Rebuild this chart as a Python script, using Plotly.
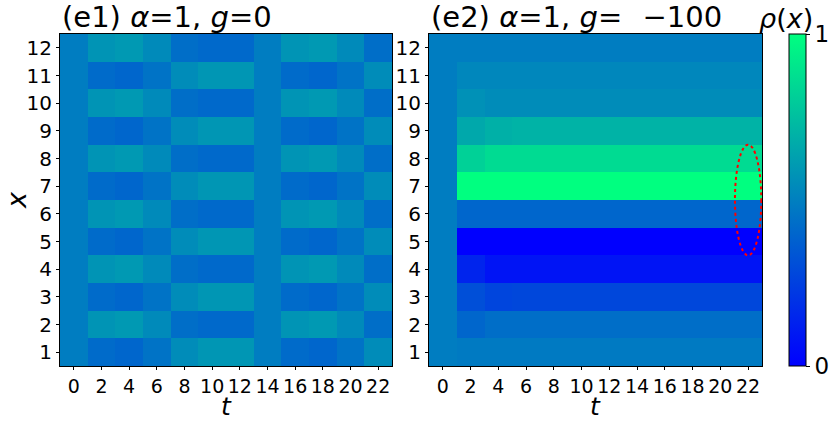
import plotly.graph_objects as go

t_vals = [0, 2, 4, 6, 8, 10, 12, 14, 16, 18, 20, 22]
x_vals = [1, 2, 3, 4, 5, 6, 7, 8, 9, 10, 11, 12]
t_ticks = [0, 2, 4, 6, 8, 10, 12, 14, 16, 18, 20, 22]

# (e1) alpha=1, g=0 : rows x=1..12, columns t=0..22
rho_e1 = [
    [0.49, 0.42, 0.40, 0.45, 0.55, 0.59, 0.59, 0.49, 0.42, 0.40, 0.45, 0.55],
    [0.49, 0.58, 0.60, 0.54, 0.43, 0.41, 0.41, 0.49, 0.58, 0.60, 0.54, 0.43],
    [0.49, 0.42, 0.40, 0.45, 0.55, 0.59, 0.59, 0.49, 0.42, 0.40, 0.45, 0.55],
    [0.49, 0.58, 0.60, 0.54, 0.43, 0.41, 0.41, 0.49, 0.58, 0.60, 0.54, 0.43],
    [0.49, 0.42, 0.40, 0.45, 0.55, 0.59, 0.59, 0.49, 0.42, 0.40, 0.45, 0.55],
    [0.49, 0.58, 0.60, 0.54, 0.43, 0.41, 0.41, 0.49, 0.58, 0.60, 0.54, 0.43],
    [0.49, 0.42, 0.40, 0.45, 0.55, 0.59, 0.59, 0.49, 0.42, 0.40, 0.45, 0.55],
    [0.49, 0.58, 0.60, 0.54, 0.43, 0.41, 0.41, 0.49, 0.58, 0.60, 0.54, 0.43],
    [0.49, 0.42, 0.40, 0.45, 0.55, 0.59, 0.59, 0.49, 0.42, 0.40, 0.45, 0.55],
    [0.49, 0.58, 0.60, 0.54, 0.43, 0.41, 0.41, 0.49, 0.58, 0.60, 0.54, 0.43],
    [0.49, 0.42, 0.40, 0.45, 0.55, 0.59, 0.59, 0.49, 0.42, 0.40, 0.45, 0.55],
    [0.49, 0.58, 0.60, 0.54, 0.43, 0.41, 0.41, 0.49, 0.58, 0.60, 0.54, 0.43],
]

# (e2) alpha=1, g=-100 : rows x=1..12, columns t=0..22
rho_e2 = [
    [0.49, 0.48, 0.48, 0.48, 0.48, 0.48, 0.48, 0.48, 0.48, 0.48, 0.48, 0.48],
    [0.49, 0.40, 0.43, 0.43, 0.43, 0.43, 0.43, 0.43, 0.43, 0.43, 0.43, 0.43],
    [0.49, 0.31, 0.27, 0.28, 0.28, 0.28, 0.28, 0.28, 0.28, 0.28, 0.28, 0.28],
    [0.49, 0.14, 0.08, 0.08, 0.08, 0.08, 0.08, 0.08, 0.08, 0.08, 0.08, 0.08],
    [0.49, 0.00, 0.00, 0.00, 0.00, 0.00, 0.00, 0.00, 0.00, 0.00, 0.00, 0.00],
    [0.49, 0.40, 0.40, 0.40, 0.40, 0.40, 0.40, 0.40, 0.40, 0.40, 0.40, 0.40],
    [0.49, 1.00, 1.00, 1.00, 1.00, 1.00, 1.00, 1.00, 1.00, 1.00, 1.00, 1.00],
    [0.49, 0.82, 0.86, 0.86, 0.86, 0.86, 0.86, 0.86, 0.86, 0.86, 0.86, 0.86],
    [0.49, 0.66, 0.69, 0.70, 0.70, 0.70, 0.70, 0.70, 0.70, 0.70, 0.70, 0.70],
    [0.49, 0.57, 0.55, 0.55, 0.55, 0.55, 0.55, 0.55, 0.55, 0.55, 0.55, 0.55],
    [0.49, 0.53, 0.53, 0.53, 0.53, 0.53, 0.53, 0.53, 0.53, 0.53, 0.53, 0.53],
    [0.49, 0.49, 0.49, 0.49, 0.49, 0.49, 0.49, 0.49, 0.49, 0.49, 0.49, 0.49],
]

winter = [[0.0, "rgb(0,0,255)"], [1.0, "rgb(0,255,128)"]]
FONT = "DejaVu Sans"

W, H = 830, 422
ml, mr, mt, mb = 60, 68, 34, 56
pw = W - ml - mr
d1 = [0, (392 - ml) / pw]
d2 = [(429 - ml) / pw, 1.0]

fig = go.Figure()
fig.add_trace(go.Heatmap(x=t_vals, y=x_vals, z=rho_e1, colorscale=winter,
                         zmin=0, zmax=1, showscale=False, xaxis="x", yaxis="y"))
fig.add_trace(go.Heatmap(
    x=t_vals, y=x_vals, z=rho_e2, colorscale=winter, zmin=0, zmax=1,
    xaxis="x2", yaxis="y2",
    colorbar=dict(x=(789 - ml) / pw, xanchor="left", xpad=0, ypad=0,
                  thickness=17, len=1.0, lenmode="fraction", y=0.5, yanchor="middle",
                  outlinewidth=1, outlinecolor="black",
                  tickvals=[0, 1], ticktext=["0", "1"], ticks="outside",
                  ticklen=4, tickcolor="black",
                  tickfont=dict(family=FONT, size=23, color="black")),
))

ax_common = dict(showline=True, linecolor="black", linewidth=1, mirror=True,
                 ticks="outside", ticklen=3, tickcolor="black", showgrid=False,
                 zeroline=False, tickangle=0,
                 tickfont=dict(family=FONT, size=19, color="black"))

fig.update_layout(
    width=W, height=H,
    margin=dict(l=ml, r=mr, t=mt, b=mb, autoexpand=False),
    paper_bgcolor="white", plot_bgcolor="white",
    font=dict(family=FONT, color="black"),
    xaxis=dict(domain=d1, range=[-1, 23], tickvals=t_ticks, anchor="y", **ax_common),
    yaxis=dict(domain=[0, 1], range=[0.5, 12.5], tickvals=x_vals, anchor="x",
               **{**ax_common, "tickfont": dict(family=FONT, size=20, color="black")}),
    xaxis2=dict(domain=d2, range=[-1, 23], tickvals=t_ticks, anchor="y2", **ax_common),
    yaxis2=dict(domain=[0, 1], range=[0.5, 12.5], tickvals=x_vals, anchor="x2",
                **{**ax_common, "tickfont": dict(family=FONT, size=20, color="black")}),
    showlegend=False,
)

fig.add_shape(type="circle", xref="x2", yref="y2", x0=21.05, x1=22.95, y0=4.5, y1=8.5,
              line=dict(color="red", width=2, dash="dot"))

def ann(text, x, y, size, **kw):
    fig.add_annotation(text=text, xref="paper", yref="paper", x=x, y=y,
                       showarrow=False, font=dict(family=FONT, size=size, color="black"), **kw)

ann("(e1) <i>α</i>=1, <i>g</i>=0", d1[0], 1, 29, xanchor="left", yanchor="bottom", yshift=-2)
ann("(e2) <i>α</i>=1, <i>g</i>=\u2002\u2009−100", d2[0], 1, 29, xanchor="left", yanchor="bottom", yshift=-2)
ann("<i>ρ</i>(<i>x</i>)", (786 - ml) / pw, 1, 27, xanchor="center", yanchor="bottom", yshift=-2)
ann("<i>t</i>", (d1[0] + d1[1]) / 2, 0, 25, xanchor="center", yanchor="bottom", yshift=-mb, borderpad=0)
ann("<i>t</i>", (d2[0] + d2[1]) / 2, 0, 25, xanchor="center", yanchor="bottom", yshift=-mb, borderpad=0)
ann("<i>x</i>", -44 / pw, 0.5, 27, xanchor="center", yanchor="middle", textangle=-90)

fig.write_html("out.html", config={"displayModeBar": False},
               post_script="document.body.style.margin='0';document.body.style.overflow='hidden';")
